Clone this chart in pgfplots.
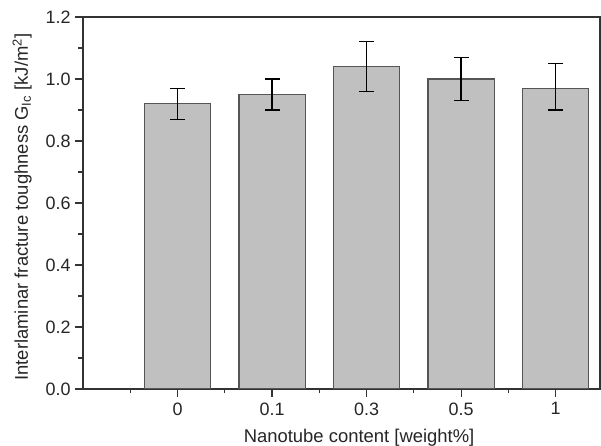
\documentclass[border=0pt]{standalone}
\usepackage{pgfplots}
\pgfplotsset{compat=1.18}
\usepackage{fontspec}
\setmainfont{Liberation Sans}
\definecolor{axisgray}{HTML}{333333}
\definecolor{barfill}{HTML}{C0C0C0}
\definecolor{baredge}{HTML}{555555}
\begin{document}
\begin{tikzpicture}
\useasboundingbox (-83bp,-57bp) rectangle (518bp,389bp);
\begin{axis}[
  at={(0,0)}, anchor=south west,
  scale only axis,
  width=517bp, height=372bp,
  xmin=-1, xmax=4.47,
  ymin=0, ymax=1.2,
  xtick={0,1,2,3,4},
  xticklabels={0,0.1,0.3,0.5,1},
  minor xtick={-0.5,0.5,1.5,2.5,3.5},
  ytick={0,0.2,...,1.2},
  minor ytick={0.1,0.3,...,1.1},
  yticklabel style={/pgf/number format/fixed, /pgf/number format/fixed zerofill, /pgf/number format/precision=1, xshift=-1bp},
  /pgf/number format/assume math mode=true,
  xtick pos=bottom, ytick pos=left,
  tick align=outside,
  major tick length=8bp, minor tick length=4.5bp,
  tick style={axisgray, line width=1.1bp},
  axis line style={axisgray, line width=1.5bp},
  ticklabel style={font=\fontsize{18}{21}\selectfont, text=black!85},
  xticklabel style={yshift=-2bp},
  label style={font=\fontsize{18.5}{22}\selectfont, text=black!85},
  xlabel={Nanotube content [weight\%]},
  ylabel={Interlaminar fracture toughness G\textsubscript{Ic} [kJ/m\textsuperscript{2}]},
  xlabel style={at={(axis description cs:0.534,-0.145)}, anchor=base},
  ylabel style={at={(axis description cs:-0.1064,0.489)}, anchor=base},
]
\addplot[ybar, bar width=0.70, fill=barfill, draw=baredge, line width=1.2bp,
  error bars/.cd, y dir=both, y explicit,
  error bar style={line width=1.3bp, black},
  error mark options={rotate=90, mark size=7.5bp, line width=1.3bp, black}]
coordinates {
  (0,0.92) +- (0,0.05)
  (1,0.95) +- (0,0.05)
  (2,1.04) +- (0,0.08)
  (3,1.00) +- (0,0.07)
  (4,0.97) += (0,0.08) -= (0,0.07)
};
\end{axis}
\end{tikzpicture}
\end{document}
